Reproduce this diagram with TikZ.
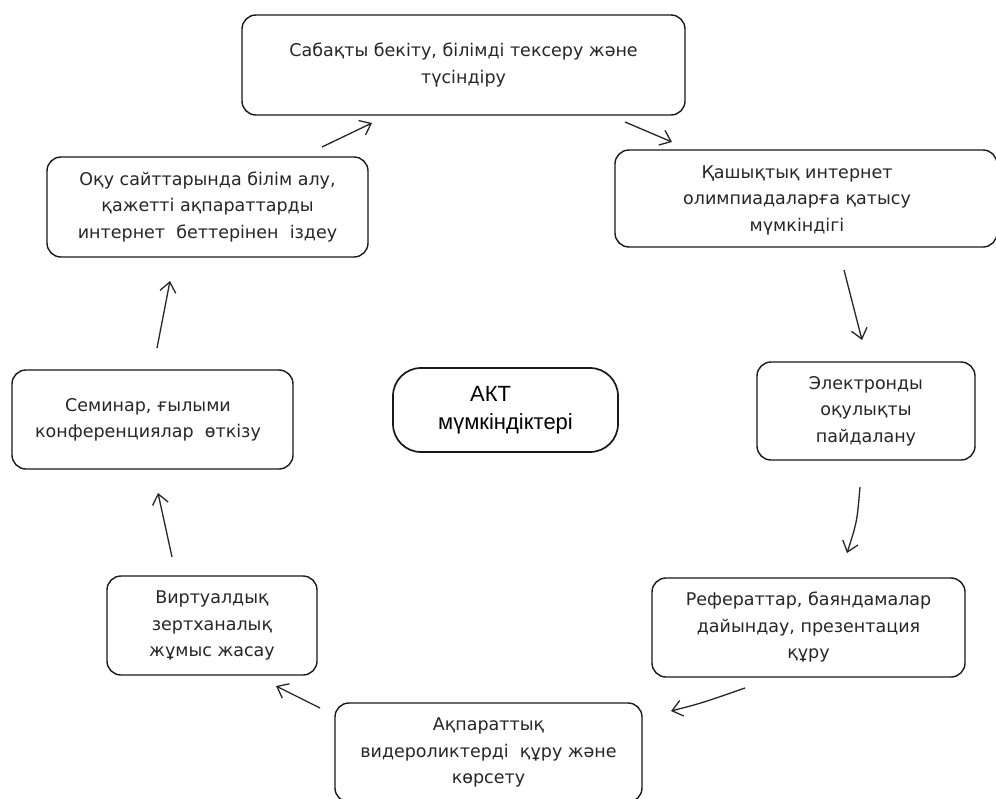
\documentclass[tikz,border=0pt]{standalone}
\usepackage{fontspec}
\setmainfont{DejaVu Sans}
\newfontfamily\arialf{Liberation Sans}
\usetikzlibrary{arrows.meta}
\begin{document}
\begin{tikzpicture}[x=1pt,y=-1pt,
  box/.style={draw=black!90, line width=1.4pt, rounded corners=14pt, align=center,
    text=black!85, font=\fontsize{17.5}{26.5}\selectfont, inner sep=0pt},
  txt/.style={align=center, text=black!85, font=\fontsize{17.5}{26.5}\selectfont, inner sep=0pt},
  arr/.style={draw=black!85, line width=1.3pt,
    -{Straight Barb[length=10pt,width=16pt,line width=1.3pt]}}]
\useasboundingbox (0,0) rectangle (996,798);
\fill[white] (0,0) rectangle (996,798);

\node[box, minimum width=443pt, minimum height=100pt] (b1) at (463.5,65)
  {Сабақты бекіту, білімді тексеру және\\түсіндіру};
\node[box, minimum width=382pt, minimum height=97pt] (b2) at (806,198.5) {};
\node[txt] (b2t) at (797,200) {Қашықтық интернет\\олимпиадаларға қатысу\\мүмкіндігі};
\node[box, minimum width=218pt, minimum height=98pt] (b3) at (866,411)
  {Электронды\\оқулықты\\пайдалану};
\node[box, minimum width=313pt, minimum height=99pt] (b4) at (808.5,627.5)
  {Рефераттар, баяндамалар\\дайындау, презентация\\құру};
\node[box, minimum width=307pt, minimum height=99pt] (b5) at (488.5,752.5)
  {Ақпараттық\\видероликтерді~ құру және\\көрсету};
\node[box, minimum width=210pt, minimum height=99pt] (b6) at (212,625.5)
  {Виртуалдық\\зертханалық\\жұмыс жасау};
\node[box, minimum width=281pt, minimum height=99pt] (b7) at (152.5,419.5) {};
\node[txt] (b7t) at (148,420) {Семинар, ғылыми\\конференциялар~ өткізу};
\node[box, minimum width=321pt, minimum height=100pt] (b8) at (207.5,207)
  {Оқу сайттарында білім алу,\\қажетті ақпараттарды\\интернет~ беттерінен~ іздеу};
\node[box, line width=1.7pt, rounded corners=28pt, minimum width=225pt, minimum height=84pt,
  font=\arialf\fontsize{22}{28}\selectfont, align=left, text=black] (c) at (505.5,410)
  {\hspace*{32pt}АКТ\\мүмкіндіктері};

\coordinate (a1s) at (625,122); \coordinate (a1e) at (672,142);
\coordinate (a2s) at (844,270); \coordinate (a2e) at (862,340);
\coordinate (a3s) at (860,487); \coordinate (a3c) at (857,522); \coordinate (a3e) at (847,553);
\coordinate (a4s) at (745,688); \coordinate (a4c) at (702,703); \coordinate (a4e) at (671,711);
\coordinate (a5s) at (320,708); \coordinate (a5e) at (276,686);
\coordinate (a6s) at (172,557); \coordinate (a6e) at (158,493);
\coordinate (a7s) at (157,348); \coordinate (a7e) at (170,281);
\coordinate (a8s) at (322,147); \coordinate (a8e) at (372,123);

\draw[arr] (a1s) -- (a1e);
\draw[arr] (a2s) -- (a2e);
\draw[arr] (a3s) .. controls (a3c) .. (a3e);
\draw[arr] (a4s) .. controls (a4c) .. (a4e);
\draw[arr] (a5s) -- (a5e);
\draw[arr] (a6s) -- (a6e);
\draw[arr] (a7s) -- (a7e);
\draw[arr] (a8s) -- (a8e);
\end{tikzpicture}
\end{document}
